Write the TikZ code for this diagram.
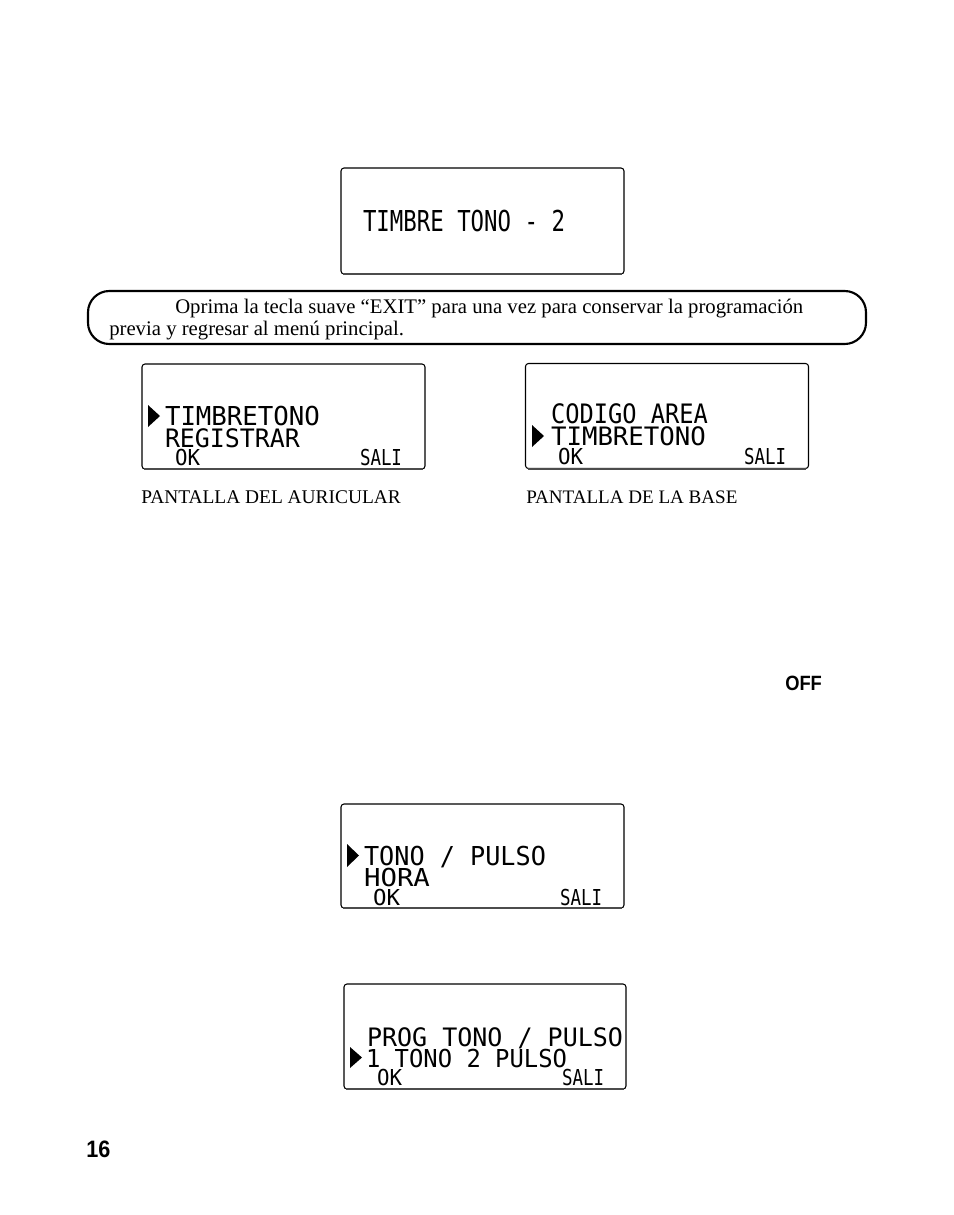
\documentclass[tikz,border=0pt]{standalone}
\usepackage{fontspec}
\usepackage{graphicx}
\setmainfont{Liberation Serif}
\newfontfamily\lcdfont{DejaVu Sans Mono}
\newfontfamily\headfont{Liberation Sans}
% LCD text: exact width and cap height in px, baseline at node south
\newcommand{\lcdtxt}[3]{\resizebox{#1\dimexpr0.75pt\relax}{#2\dimexpr0.75pt\relax}{\fontsize{20}{20}\lcdfont\rule{0pt}{14.58pt}\smash{#3}}}
\tikzset{
  x=0.75pt,y=-0.75pt,
  lcdbox/.style={draw=black,line width=0.8pt,rounded corners=2.25pt},
  lcdbottom/.style={draw=black!70,line width=1.5pt},
  callout/.style={draw=black,line width=1.6pt,rounded corners=16pt},
  pointer/.style={fill=black,draw=none},
  lcdlabel/.style={anchor=south west,inner sep=0pt,outer sep=0pt},
  caption/.style={anchor=base west,inner sep=0pt},
  bodyline/.style={anchor=base west,inner sep=0pt,font=\fontsize{15.55}{17}\selectfont},
  headlabel/.style={anchor=base west,inner sep=0pt},
}
\begin{document}
\begin{tikzpicture}
\useasboundingbox (0,0) rectangle (954,1215);
% box 1
\draw[lcdbox] (341,168) rectangle (624,274);
\draw[lcdbottom] (343,274) -- (622,274);
\node[lcdlabel] (t1) at (363,231) {\lcdtxt{202}{21}{TIMBRE TONO - 2}};
% callout
\draw[callout] (88,291) rectangle (866,344);
\node[bodyline] (b1) at (175,313) {Oprima la tecla suave “EXIT” para una vez para conservar la programación};
\node[bodyline] (b2) at (109,335) {previa y regresar al menú principal.};
% left box
\draw[lcdbox] (142,364) rectangle (425,469);
\draw[lcdbottom] (144,469) -- (423,469);
\fill[pointer] (148,405) -- (160,416) -- (148,427) -- cycle;
\node[lcdlabel] (t2) at (165,425.5) {\lcdtxt{155}{19}{TIMBRETONO}};
\node[lcdlabel] (t3) at (165,447) {\lcdtxt{135}{18.5}{REGISTRAR}};
\node[lcdlabel] (t4) at (175,465.5) {\lcdtxt{25}{16}{OK}};
\node[lcdlabel] (t5) at (360,465.5) {\lcdtxt{42}{16}{SALI}};
\node[caption,font=\fontsize{14.55}{16}\selectfont] (c1) at (141,503) {PANTALLA DEL AURICULAR};
% right box
\draw[lcdbox] (525.5,363.5) rectangle (808.5,468.5);
\draw[lcdbottom] (528,468.5) -- (806,468.5);
\fill[pointer] (532,425) -- (544,436) -- (532,447) -- cycle;
\node[lcdlabel] (t6) at (551,423) {\lcdtxt{157}{19.5}{CODIGO AREA}};
\node[lcdlabel] (t7) at (551,445) {\lcdtxt{155}{18.5}{TIMBRETONO}};
\node[lcdlabel] (t8) at (558,464.5) {\lcdtxt{25}{16}{OK}};
\node[lcdlabel] (t9) at (744,464.5) {\lcdtxt{42}{16}{SALI}};
\node[caption,font=\fontsize{14.3}{16}\selectfont] (c2) at (526,503) {PANTALLA DE LA BASE};
% OFF
\node[headlabel,font=\headfont\bfseries\fontsize{15.5}{17}\selectfont] (off) at (785,690) {\scalebox{0.887}[1]{OFF}};
% box 4
\draw[lcdbox] (341,804) rectangle (624,908);
\draw[lcdbottom] (343,908) -- (622,908);
\fill[pointer] (347,844) -- (359,855.5) -- (347,867) -- cycle;
\node[lcdlabel] (t10) at (364,865) {\lcdtxt{182}{19}{TONO / PULSO}};
\node[lcdlabel] (t11) at (364,886) {\lcdtxt{66}{18}{HORA}};
\node[lcdlabel] (t12) at (373,905) {\lcdtxt{27}{16}{OK}};
\node[lcdlabel] (t13) at (560,905) {\lcdtxt{42}{16}{SALI}};
% box 5
\draw[lcdbox] (344,984) rectangle (626,1089);
\draw[lcdbottom] (346,1089) -- (624,1089);
\fill[pointer] (350,1047) -- (362,1057.5) -- (350,1068) -- cycle;
\node[lcdlabel] (t14) at (367,1046.5) {\lcdtxt{256}{18.5}{PROG TONO / PULSO}};
\node[lcdlabel] (t15) at (366,1067.5) {\lcdtxt{201}{18}{1 TONO 2 PULSO}};
\node[lcdlabel] (t16) at (377,1085.5) {\lcdtxt{25}{16}{OK}};
\node[lcdlabel] (t17) at (562,1085.5) {\lcdtxt{42}{16}{SALI}};
% page number
\node[headlabel,font=\headfont\bfseries\fontsize{17.8}{19}\selectfont] (pg) at (86,1157) {\scalebox{0.91}[1]{16}};
\end{tikzpicture}
\end{document}
